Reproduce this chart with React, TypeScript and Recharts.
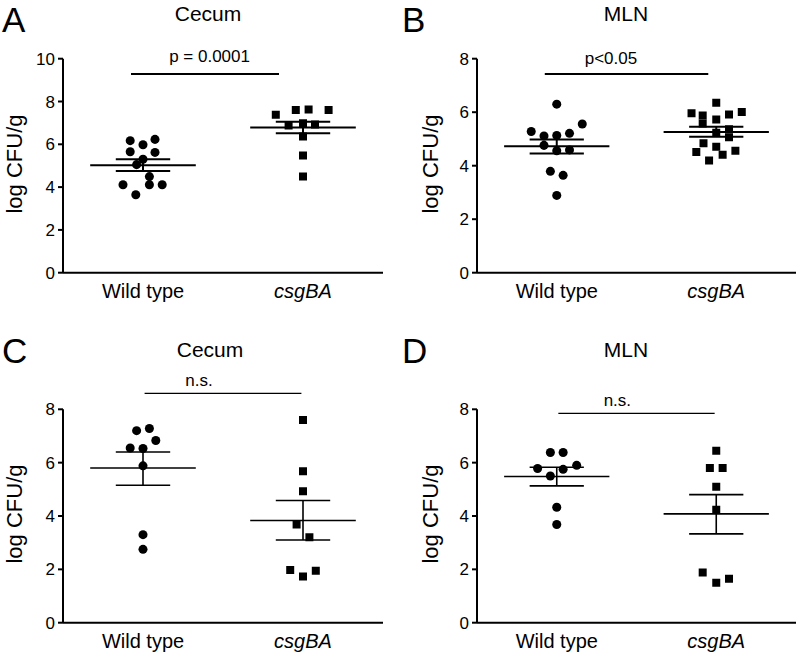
import { ScatterChart, Scatter, XAxis, YAxis, ReferenceLine, ReferenceDot } from 'recharts';

const groups = ['Wild type', 'csgBA'];
const yTicks10 = [0, 2, 4, 6, 8, 10];
const yTicks8 = [0, 2, 4, 6, 8];

// A - Cecum
const aWtValues = [6.17, 6.23, 5.98, 5.65, 5.62, 5.3, 5.05, 4.49, 4.11, 4.11, 4.11, 3.64];
const aWtJitter = [-0.08, 0.075, 0, -0.08, 0.075, 0, -0.04, 0.04, -0.125, 0.04, 0.12, -0.045];
const aMutValues = [7.38, 7.6, 7.63, 7.6, 6.88, 6.98, 6.92, 6.36, 5.48, 4.49];
const aMutJitter = [-0.17, -0.045, 0.035, 0.16, -0.09, 0, 0.075, 0, 0, 0];
const aStats = [
  [5.02, 5.3, 4.75],
  [6.78, 7.05, 6.52],
];

// B - MLN
const bWtValues = [6.3, 5.28, 5.56, 5.11, 5.13, 5.21, 4.76, 4.56, 4.59, 3.79, 3.64, 2.89];
const bWtJitter = [0, -0.16, 0.16, -0.08, 0, 0.08, -0.08, 0, 0.08, -0.04, 0.04, 0];
const bMutValues = [6.35, 5.96, 5.88, 5.91, 6.01, 5.73, 5.58, 5.36, 5.23, 5.06, 4.84, 4.71, 4.51, 4.41, 4.56, 4.19];
const bMutJitter = [0, -0.155, -0.085, 0.08, 0.16, 0, -0.085, 0.08, 0, 0.08, -0.08, 0, -0.125, 0.04, 0.12, -0.045];
const bStats = [
  [4.73, 4.98, 4.46],
  [5.26, 5.46, 5.08],
];

// C - Cecum
const cWtValues = [7.2, 7.28, 6.55, 6.53, 6.83, 5.88, 3.3, 2.75];
const cWtJitter = [-0.04, 0.04, -0.08, 0, 0.08, 0, 0, 0];
const cMutValues = [7.6, 5.68, 4.93, 3.68, 3.2, 1.98, 1.95, 1.73];
const cMutJitter = [0, 0, 0, -0.04, 0.04, -0.08, 0.08, 0];
const cStats = [
  [5.8, 6.4, 5.15],
  [3.83, 4.58, 3.1],
];

// D - MLN
const dWtValues = [6.38, 6.38, 5.78, 5.75, 5.9, 5.5, 4.33, 3.68];
const dWtJitter = [-0.04, 0.04, -0.12, 0.04, 0.125, -0.04, 0, 0];
const dMutValues = [6.45, 5.8, 5.8, 5.1, 4.23, 1.88, 1.65, 1.5];
const dMutJitter = [0, -0.04, 0.04, 0, 0, -0.085, 0.08, 0];
const dStats = [
  [5.48, 5.83, 5.13],
  [4.08, 4.8, 3.33],
];

// significance bars: [x1, x2, y], label and label position [x, y]
const sigLabels = ['p = 0.0001', 'p<0.05', 'n.s.', 'n.s.'];
const sigBars = [
  [0.425, 1.35, 9.28],
  [0.425, 1.45, 7.43],
  [0.51, 1.49, 8.6],
  [0.51, 1.49, 7.85],
];
const sigLabelPos = [
  [0.916, 10.13],
  [0.84, 8.03],
  [0.85, 9.1],
  [0.88, 8.35],
];

const FONT = '"Liberation Sans", Arial, Helvetica, sans-serif';

function CatTick(props: any) {
  const { x, y, payload } = props;
  const i = payload.value < 1 ? 0 : 1;
  return (
    <text
      x={x}
      y={y + 25}
      textAnchor="middle"
      fontSize={20}
      fill="#000"
      fontStyle={i === 1 ? 'italic' : 'normal'}
    >
      {groups[i]}
    </text>
  );
}

const toPoints = (values: number[], jitter: number[], center: number) =>
  values.map((v, i) => ({ x: center + jitter[i], y: v }));

interface PanelProps {
  left: number;
  top: number;
  margin: { top: number; right: number; bottom: number; left: number };
  yMax: number;
  ticks: number[];
  wtValues: number[];
  wtJitter: number[];
  mutValues: number[];
  mutJitter: number[];
  stats: number[][];
  sig: number[];
  sigLabel: string;
  sigPos: number[];
  lw: number;
  sigLw: number;
}

function Panel(p: PanelProps) {
  const wt = toPoints(p.wtValues, p.wtJitter, 0.5);
  const mut = toPoints(p.mutValues, p.mutJitter, 1.5);
  const centers = [0.5, 1.5];
  return (
    <div style={{ position: 'absolute', left: p.left, top: p.top }}>
      <ScatterChart width={400} height={328} margin={p.margin}>
        <XAxis
          type="number"
          dataKey="x"
          domain={[0, 2]}
          ticks={[0.5, 1.5]}
          tick={<CatTick />}
          tickLine={false}
          tickSize={0}
          tickMargin={0}
          axisLine={{ stroke: '#000', strokeWidth: 2 }}
          height={30}
          allowDataOverflow
        />
        <YAxis
          type="number"
          dataKey="y"
          domain={[0, p.yMax]}
          ticks={p.ticks}
          width={40}
          tick={{ fill: '#000', fontSize: 17 }}
          tickSize={5}
          tickMargin={3}
          axisLine={{ stroke: '#000', strokeWidth: 2 }}
          tickLine={{ stroke: '#000', strokeWidth: 2 }}
          allowDataOverflow
        />
        {centers.map((c, i) => {
          const [m, hi, lo] = p.stats[i];
          return [
            <ReferenceLine key={'m' + i} segment={[{ x: c - 0.33, y: m }, { x: c + 0.33, y: m }]} stroke="#000" strokeWidth={p.lw} ifOverflow="visible" />,
            <ReferenceLine key={'h' + i} segment={[{ x: c - 0.17, y: hi }, { x: c + 0.17, y: hi }]} stroke="#000" strokeWidth={p.lw} ifOverflow="visible" />,
            <ReferenceLine key={'l' + i} segment={[{ x: c - 0.17, y: lo }, { x: c + 0.17, y: lo }]} stroke="#000" strokeWidth={p.lw} ifOverflow="visible" />,
            <ReferenceLine key={'v' + i} segment={[{ x: c, y: lo }, { x: c, y: hi }]} stroke="#000" strokeWidth={p.lw} ifOverflow="visible" />,
          ];
        })}
        <ReferenceLine
          segment={[{ x: p.sig[0], y: p.sig[2] }, { x: p.sig[1], y: p.sig[2] }]}
          stroke="#000"
          strokeWidth={p.sigLw}
          ifOverflow="visible"
        />
        <ReferenceDot
          x={p.sigPos[0]}
          y={p.sigPos[1]}
          r={0}
          fill="none"
          stroke="none"
          ifOverflow="visible"
          label={{ value: p.sigLabel, position: 'center', fontSize: 17, fill: '#000' }}
        />
        <Scatter data={wt} shape="circle" fill="#000" isAnimationActive={false} />
        <Scatter data={mut} shape="square" fill="#000" isAnimationActive={false} />
      </ScatterChart>
    </div>
  );
}

export default function App() {
  const topMarginAB = 58.7;
  const topMarginCD = 81.3;
  return (
    <div
      style={{
        position: 'absolute',
        left: 0,
        top: 0,
        width: 800,
        height: 656,
        background: '#fff',
        fontFamily: FONT,
        overflow: 'hidden',
      }}
    >
      <Panel
        left={0}
        top={0}
        margin={{ top: topMarginAB, right: 17, bottom: 25.3, left: 23 }}
        yMax={10}
        ticks={yTicks10}
        wtValues={aWtValues}
        wtJitter={aWtJitter}
        mutValues={aMutValues}
        mutJitter={aMutJitter}
        stats={aStats}
        sig={sigBars[0]}
        sigLabel={sigLabels[0]}
        sigPos={sigLabelPos[0]}
        lw={2}
        sigLw={2}
      />
      <Panel
        left={400}
        top={0}
        margin={{ top: topMarginAB, right: 4, bottom: 25.3, left: 37 }}
        yMax={8}
        ticks={yTicks8}
        wtValues={bWtValues}
        wtJitter={bWtJitter}
        mutValues={bMutValues}
        mutJitter={bMutJitter}
        stats={bStats}
        sig={sigBars[1]}
        sigLabel={sigLabels[1]}
        sigPos={sigLabelPos[1]}
        lw={2}
        sigLw={2}
      />
      <Panel
        left={0}
        top={328}
        margin={{ top: topMarginCD, right: 17, bottom: 3.3, left: 23 }}
        yMax={8}
        ticks={yTicks8}
        wtValues={cWtValues}
        wtJitter={cWtJitter}
        mutValues={cMutValues}
        mutJitter={cMutJitter}
        stats={cStats}
        sig={sigBars[2]}
        sigLabel={sigLabels[2]}
        sigPos={sigLabelPos[2]}
        lw={1.6}
        sigLw={1.3}
      />
      <Panel
        left={400}
        top={328}
        margin={{ top: topMarginCD, right: 4, bottom: 3.3, left: 37 }}
        yMax={8}
        ticks={yTicks8}
        wtValues={dWtValues}
        wtJitter={dWtJitter}
        mutValues={dMutValues}
        mutJitter={dMutJitter}
        stats={dStats}
        sig={sigBars[3]}
        sigLabel={sigLabels[3]}
        sigPos={sigLabelPos[3]}
        lw={1.6}
        sigLw={1.3}
      />
      <svg
        width={800}
        height={656}
        style={{ position: 'absolute', left: 0, top: 0, pointerEvents: 'none' }}
      >
        <g fill="#000" fontFamily={FONT}>
          <text x={2} y={32} fontSize={35}>A</text>
          <text x={402} y={32} fontSize={35}>B</text>
          <text x={2} y={363} fontSize={35}>C</text>
          <text x={402} y={363} fontSize={35}>D</text>
          <text x={208} y={21} fontSize={21} textAnchor="middle">Cecum</text>
          <text x={626} y={21} fontSize={21} textAnchor="middle">MLN</text>
          <text x={210} y={357} fontSize={21} textAnchor="middle">Cecum</text>
          <text x={626} y={357} fontSize={21} textAnchor="middle">MLN</text>
          <text x={22} y={164} fontSize={22} textAnchor="middle" transform="rotate(-90 22 164)">log CFU/g</text>
          <text x={438} y={164} fontSize={22} textAnchor="middle" transform="rotate(-90 438 164)">log CFU/g</text>
          <text x={22} y={514} fontSize={22} textAnchor="middle" transform="rotate(-90 22 514)">log CFU/g</text>
          <text x={438} y={514} fontSize={22} textAnchor="middle" transform="rotate(-90 438 514)">log CFU/g</text>
        </g>
      </svg>
    </div>
  );
}
